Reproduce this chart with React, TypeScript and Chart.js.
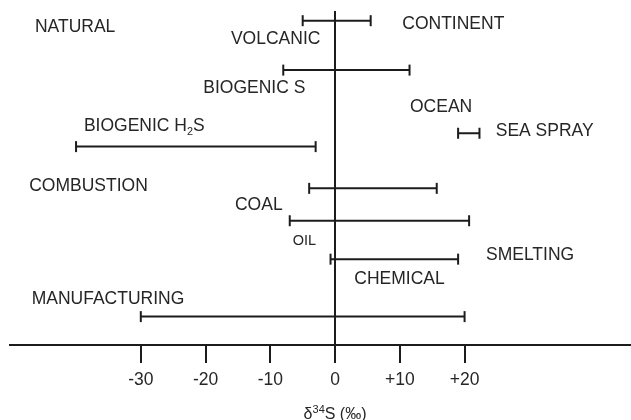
import React, { useEffect, useRef } from "react";
import { Chart, registerables } from "chart.js";

Chart.register(...registerables);

// Sulfur sources and the δ34S range (‰) each one spans
const sources = [
  "Volcanic",
  "Biogenic S",
  "Sea spray",
  "Biogenic H2S",
  "Coal",
  "Oil",
  "Chemical / smelting",
  "Manufacturing",
];
const lowValues = [-5, -8, 19, -40, -4, -7, -0.7, -30];
const highValues = [5.5, 11.5, 22.3, -3, 15.7, 20.7, 19, 20];
// vertical level of each range line in the diagram (0 = top, 100 = axis)
const rowLevels = [2.9, 17.7, 36.6, 40.6, 53.1, 62.8, 74.3, 91.5];

const tickValues = [-30, -20, -10, 0, 10, 20];

// Text annotations anchored in data coordinates: [δ34S, level]
type Part = { t: string; sub?: boolean };
type Note = { parts: Part[]; x: number; level: number; size: number };
const notes: Note[] = [
  { parts: [{ t: "NATURAL" }], x: -46.35, level: 4.7, size: 17.5 },
  { parts: [{ t: "VOLCANIC" }], x: -16.08, level: 8.5, size: 17.5 },
  { parts: [{ t: "CONTINENT" }], x: 10.38, level: 4.0, size: 17.5 },
  { parts: [{ t: "BIOGENIC S" }], x: -20.36, level: 23.0, size: 17.5 },
  { parts: [{ t: "OCEAN" }], x: 11.57, level: 28.7, size: 17.5 },
  { parts: [{ t: "SEA SPRAY" }], x: 24.81, level: 36.1, size: 17.5 },
  {
    parts: [{ t: "BIOGENIC H" }, { t: "2", sub: true }, { t: "S" }],
    x: -38.79,
    level: 34.6,
    size: 17.5,
  },
  { parts: [{ t: "COMBUSTION" }], x: -47.23, level: 52.4, size: 17.5 },
  { parts: [{ t: "COAL" }], x: -15.46, level: 58.1, size: 17.5 },
  { parts: [{ t: "OIL" }], x: -6.55, level: 68.8, size: 14.5 },
  { parts: [{ t: "SMELTING" }], x: 23.31, level: 73.1, size: 17.5 },
  { parts: [{ t: "CHEMICAL" }], x: 2.97, level: 80.2, size: 17.5 },
  { parts: [{ t: "MANUFACTURING" }], x: -46.86, level: 86.3, size: 17.5 },
];

const FONT = '"Liberation Sans", Arial, Helvetica, sans-serif';
const INK = "#1c1c1c";
const TEXT = "#262626";

const notesPlugin = {
  id: "diagramNotes",
  afterDatasetsDraw(chart: any) {
    const { ctx } = chart;
    const xs = chart.scales.x;
    const ys = chart.scales.y;
    ctx.save();
    ctx.fillStyle = TEXT;
    ctx.textAlign = "left";
    ctx.textBaseline = "middle";
    for (const n of notes) {
      let px = xs.getPixelForValue(n.x);
      const py = ys.getPixelForValue(n.level);
      for (const p of n.parts) {
        const size = p.sub ? n.size * 0.62 : n.size;
        ctx.font = `${size}px ${FONT}`;
        ctx.fillText(p.t, px, p.sub ? py + n.size * 0.3 : py);
        px += ctx.measureText(p.t).width;
      }
    }

    // axis title: δ34S (‰) with raised isotope number
    const main = 16;
    const sup = 11;
    const pieces = [
      { t: "δ", s: main, dy: 0 },
      { t: "34", s: sup, dy: -main * 0.3 },
      { t: "S (‰)", s: main, dy: 0 },
    ];
    let total = 0;
    for (const p of pieces) {
      ctx.font = `${p.s}px ${FONT}`;
      total += ctx.measureText(p.t).width;
    }
    let tx = xs.getPixelForValue(0) - total / 2;
    const ty = chart.height - 5;
    for (const p of pieces) {
      ctx.font = `${p.s}px ${FONT}`;
      ctx.fillText(p.t, tx, ty + p.dy);
      tx += ctx.measureText(p.t).width;
    }
    ctx.restore();
  },
};

export default function App() {
  const canvasRef = useRef<HTMLCanvasElement | null>(null);

  useEffect(() => {
    const canvas = canvasRef.current;
    if (!canvas) return;

    const datasets = sources.map((name, i) => ({
      label: name,
      data: [
        { x: lowValues[i], y: rowLevels[i] },
        { x: highValues[i], y: rowLevels[i] },
      ],
      borderColor: INK,
      borderWidth: 2,
      showLine: true,
      fill: false,
      pointStyle: "line" as const,
      pointRotation: 90,
      pointRadius: 5.5,
      pointHoverRadius: 5.5,
      pointBorderWidth: 2,
      pointBorderColor: INK,
      pointBackgroundColor: INK,
    }));

    const chart = new Chart(canvas, {
      type: "line",
      data: { datasets },
      plugins: [notesPlugin],
      options: {
        animation: false,
        responsive: false,
        devicePixelRatio: 1,
        events: [],
        layout: {
          autoPadding: false,
          padding: { top: 11, left: 10, right: 0, bottom: 0 },
        },
        plugins: {
          legend: { display: false },
          tooltip: { enabled: false },
        },
        scales: {
          x: {
            type: "linear",
            position: "bottom",
            min: -50.2,
            max: 45.7,
            afterBuildTicks: (scale: any) => {
              scale.ticks = tickValues.map((v) => ({ value: v }));
            },
            afterFit: (scale: any) => {
              scale.height = 75;
            },
            border: { display: true, color: INK, width: 2 },
            grid: {
              drawOnChartArea: true,
              drawTicks: true,
              tickLength: 18,
              lineWidth: 2,
              tickColor: INK,
              color: (c: any) =>
                c.tick && c.tick.value === 0 ? INK : "rgba(0,0,0,0)",
            },
            ticks: {
              color: TEXT,
              padding: 7,
              font: { family: FONT, size: 17.5 },
              maxRotation: 0,
              callback: (v: any) => (Number(v) > 0 ? `+${v}` : `${v}`),
            },
          },
          y: {
            type: "linear",
            display: false,
            reverse: true,
            min: 0,
            max: 100,
          },
        },
      },
    });

    return () => chart.destroy();
  }, []);

  return (
    <div
      style={{
        position: "fixed",
        left: 0,
        top: 0,
        width: 631,
        height: 420,
        background: "#ffffff",
      }}
    >
      <canvas
        ref={canvasRef}
        width={631}
        height={420}
        style={{ display: "block", width: 631, height: 420 }}
      />
    </div>
  );
}
